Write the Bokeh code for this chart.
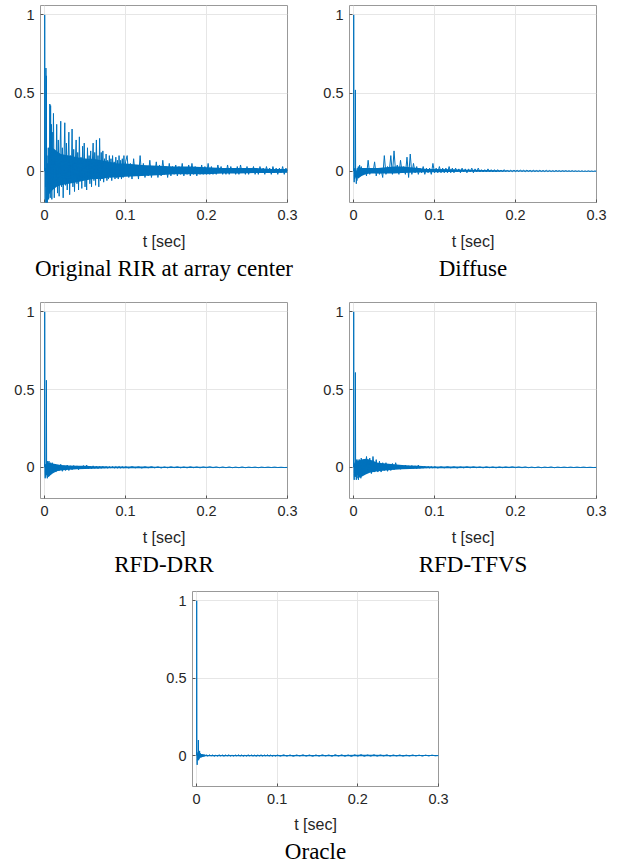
from bokeh.plotting import figure
from bokeh.layouts import column, row
from bokeh.models import Title, FixedTicker, Range1d, Spacer
from bokeh.embed import file_html
from bokeh.resources import INLINE

# ---------------- data ----------------
x_tick_vals = [0, 0.1, 0.2, 0.3]
x_tick_labels = ["0", "0.1", "0.2", "0.3"]
y_tick_vals = [0, 0.5, 1]
y_tick_labels = ["0", "0.5", "1"]
captions = ["Original RIR at array center", "Diffuse", "RFD-DRR", "RFD-TFVS", "Oracle"]
x_label = "t [sec]"

early_t = [0.0, 0.0002, 0.0005, 0.0008, 0.0011, 0.0014, 0.0017, 0.002, 0.0023, 0.0026,
           0.003, 0.0034, 0.0038, 0.0042, 0.0046, 0.005, 0.0055, 0.006, 0.0065, 0.007,
           0.0075, 0.008, 0.0085, 0.009, 0.0095, 0.01]

# dense core of each response (lower / upper envelope of the filled band)
env_t = [0.005, 0.01, 0.015, 0.02, 0.03, 0.04, 0.05, 0.06, 0.07, 0.08, 0.09, 0.1,
         0.12, 0.14, 0.16, 0.18, 0.2, 0.22, 0.24, 0.26, 0.28, 0.3]

# Original RIR at array center
orig_early = [0.0, 1.0, 0.05, -0.3, 0.02, -0.1, 0.66, -0.05, 0.61, -0.3,
              0.1, -0.28, 0.05, -0.12, 0.15, -0.18, 0.1, -0.08, 0.43, -0.17,
              0.42, -0.1, 0.3, -0.18, 0.25, -0.05]
orig_mid_start, orig_mid_step = 0.011, 0.001
orig_mid = [0.37, -0.17, 0.12, -0.06, 0.30, -0.14, 0.2, -0.16, 0.1, 0.32,
            -0.1, 0.15, -0.17, 0.08, 0.31, -0.09, 0.18, -0.12, 0.06, 0.25,
            -0.15, 0.1, -0.05, 0.27, -0.1, 0.14, -0.13, 0.05, 0.2, -0.08,
            0.12, -0.12, 0.22, -0.05, 0.09, -0.11, 0.16, -0.04, 0.18, -0.1,
            0.08, -0.12, 0.15, -0.04, 0.1, -0.08, 0.13, -0.1, 0.06, 0.18,
            -0.06, 0.12, -0.09, 0.2, -0.05, 0.1, -0.1, 0.21, -0.06, 0.12,
            -0.05, 0.13, -0.07, 0.08, -0.04, 0.11, -0.06, 0.07, -0.05, 0.1,
            -0.04, 0.08, -0.06, 0.1, -0.03, 0.06, -0.05, 0.09, -0.04, 0.07,
            -0.05, 0.1, -0.03, 0.07, -0.05, 0.08, -0.04, 0.1, -0.03, 0.06]
orig_late_step = 0.002
orig_late = [0.1, -0.04, 0.05, -0.05, 0.08, -0.03, 0.04, -0.05, 0.1, -0.03,
             0.05, -0.04, 0.03, -0.03, 0.07, -0.04, 0.03, -0.02, 0.06, -0.04,
             0.04, -0.03, 0.07, -0.02, 0.03, -0.04, 0.05, -0.03, 0.03, -0.02,
             0.04, -0.03, 0.03, -0.02, 0.05, -0.03, 0.02, -0.02, 0.04, -0.03,
             0.05, -0.02, 0.03, -0.03, 0.02, -0.02, 0.04, -0.02, 0.03, -0.02,
             0.05, -0.02, 0.03, -0.02, 0.02, -0.02, 0.04, -0.01, 0.03, -0.02,
             0.02, -0.02, 0.04, -0.02, 0.03, -0.01, 0.02, -0.02, 0.03, -0.02,
             0.04, -0.01, 0.02, -0.02, 0.03, -0.02, 0.02, -0.01, 0.03, -0.02,
             0.02, -0.02, 0.03, -0.01, 0.02, -0.02, 0.03, -0.01, 0.02, -0.02,
             0.03, -0.01, 0.02, -0.02, 0.02, -0.01, 0.03, -0.02, 0.02, 0.0]
orig_hi = [0.15, 0.15, 0.13, 0.11, 0.1, 0.09, 0.08, 0.08, 0.07, 0.06, 0.05, 0.05,
           0.04, 0.035, 0.03, 0.03, 0.025, 0.02, 0.02, 0.02, 0.015, 0.015]
orig_lo = [-0.15, -0.12, -0.1, -0.09, -0.08, -0.07, -0.06, -0.05, -0.05, -0.04, -0.04, -0.035,
           -0.03, -0.025, -0.02, -0.02, -0.02, -0.015, -0.015, -0.012, -0.012, -0.01]

# shared sample grid of the 0.012 .. 0.1 s part for the other panels
mid_start, mid_step = 0.012, 0.002

# Diffuse
diff_early = [0.0, 1.0, -0.02, -0.07, 0.01, -0.05, 0.02, -0.03, 0.52, -0.04,
              0.01, -0.08, 0.0, -0.06, 0.02, -0.04, 0.01, -0.03, 0.03, -0.02,
              0.04, -0.03, 0.01, -0.02, 0.03, -0.01]
diff_mid = [-0.02, 0.01, -0.03, 0.07, -0.02, 0.02, -0.01, 0.06, -0.03, 0.02,
            -0.02, 0.01, -0.04, 0.1, -0.02, 0.03, -0.01, 0.1, -0.02, 0.13,
            -0.01, 0.04, -0.02, 0.07, -0.01, 0.03, -0.02, 0.09, -0.04, 0.11,
            -0.02, 0.05, -0.01, 0.03, -0.02, 0.02, -0.01, 0.03, -0.02, 0.02,
            -0.01, 0.02, -0.02, 0.05, -0.01]
diff_late_step = 0.002
diff_late = [0.02, -0.01, 0.03, -0.01, 0.02, -0.01, 0.02, -0.01, 0.03, -0.01,
             0.02, -0.01, 0.02, -0.005, 0.015, -0.01, 0.02, -0.005, 0.015, -0.01,
             0.015, -0.005, 0.02, -0.01, 0.015, -0.005, 0.02, -0.005, 0.01, -0.005,
             0.01, -0.005, 0.015, -0.005, 0.01, -0.005, 0.01, -0.005, 0.01, -0.003,
             0.008, -0.004, 0.01, -0.003, 0.008, -0.004, 0.007, -0.003, 0.008, -0.003,
             0.007, -0.003, 0.008, -0.002, 0.006, -0.003, 0.007, -0.002, 0.006, -0.003,
             0.006, -0.002, 0.005, -0.002, 0.006, -0.002, 0.005, -0.002, 0.006, -0.002,
             0.005, -0.002, 0.004, -0.002, 0.005, -0.001, 0.004, -0.002, 0.004, -0.001,
             0.004, -0.001, 0.003, -0.001, 0.004, -0.001, 0.003, -0.001, 0.003, -0.001,
             0.003, -0.001, 0.002, -0.001, 0.003, -0.001, 0.002, -0.001, 0.002, 0.0]
diff_hi = [0.03, 0.02, 0.02, 0.02, 0.02, 0.025, 0.03, 0.03, 0.025, 0.02, 0.015, 0.015,
           0.012, 0.01, 0.008, 0.006, 0.005, 0.004, 0.003, 0.003, 0.002, 0.002]
diff_lo = [-0.05, -0.03, -0.02, -0.015, -0.015, -0.015, -0.015, -0.012, -0.01, -0.008, -0.007, -0.006,
           -0.005, -0.004, -0.003, -0.003, -0.002, -0.002, -0.002, -0.001, -0.001, -0.001]

# RFD-DRR
drr_early = [0.0, 1.0, -0.03, -0.07, 0.02, -0.06, 0.01, -0.04, 0.56, -0.05,
             0.03, -0.07, 0.04, -0.05, 0.03, -0.06, 0.04, -0.05, 0.02, -0.04,
             0.03, -0.04, 0.02, -0.03, 0.03, -0.02]
drr_mid = [0.02, -0.03, 0.015, -0.02, 0.02, -0.025, 0.01, -0.02, 0.015, -0.02,
           0.01, -0.015, 0.012, -0.01, 0.01, -0.015, 0.008, -0.01, 0.012, -0.008,
           0.015, -0.01, 0.008, -0.008, 0.01, -0.006, 0.008, -0.008, 0.006, -0.006,
           0.007, -0.005, 0.006, -0.006, 0.005, -0.004, 0.006, -0.005, 0.005, -0.004,
           0.006, -0.004, 0.005, -0.004, 0.004]
drr_late_step = 0.004
drr_late = [-0.004, 0.005, -0.003, 0.004, -0.004, 0.004, -0.003, 0.005, -0.003, 0.004,
            -0.004, 0.003, -0.003, 0.004, -0.002, 0.004, -0.003, 0.003, -0.003, 0.004,
            -0.002, 0.003, -0.003, 0.003, -0.002, 0.004, -0.002, 0.003, -0.002, 0.003,
            -0.002, 0.003, -0.002, 0.002, -0.002, 0.003, -0.002, 0.002, -0.001, 0.002,
            -0.002, 0.002, -0.001, 0.002, -0.001, 0.002, -0.001, 0.001, -0.001, 0.0]
drr_hi = [0.03, 0.025, 0.02, 0.015, 0.012, 0.01, 0.01, 0.008, 0.007, 0.006, 0.006, 0.005,
          0.005, 0.004, 0.004, 0.004, 0.004, 0.003, 0.003, 0.003, 0.003, 0.002]
drr_lo = [-0.06, -0.04, -0.025, -0.02, -0.015, -0.012, -0.01, -0.008, -0.007, -0.006, -0.006, -0.005,
          -0.005, -0.004, -0.004, -0.004, -0.003, -0.003, -0.003, -0.003, -0.002, -0.002]

# RFD-TFVS
tfvs_early = [0.0, 1.0, -0.04, -0.08, 0.02, -0.06, 0.03, -0.05, 0.61, -0.06,
              0.04, -0.08, 0.05, -0.07, 0.04, -0.05, 0.05, -0.08, 0.03, -0.06,
              0.05, -0.05, 0.04, -0.07, 0.06, -0.04]
tfvs_mid = [0.05, -0.04, 0.07, -0.03, 0.06, -0.04, 0.07, -0.03, 0.05, -0.03,
            0.04, -0.03, 0.03, -0.02, 0.03, -0.025, 0.02, -0.02, 0.025, -0.015,
            0.03, -0.01, 0.015, -0.012, 0.012, -0.01, 0.015, -0.008, 0.01, -0.01,
            0.012, -0.006, 0.01, -0.008, 0.015, -0.006, 0.008, -0.005, 0.007, -0.005,
            0.006, -0.004, 0.005, -0.004, 0.005]
tfvs_late_step = 0.004
tfvs_late = [-0.004, 0.004, -0.003, 0.005, -0.003, 0.004, -0.004, 0.003, -0.003, 0.004,
             -0.003, 0.004, -0.002, 0.003, -0.003, 0.004, -0.002, 0.003, -0.003, 0.003,
             -0.002, 0.003, -0.002, 0.004, -0.002, 0.003, -0.002, 0.003, -0.002, 0.002,
             -0.002, 0.003, -0.002, 0.002, -0.001, 0.003, -0.002, 0.002, -0.001, 0.002,
             -0.001, 0.002, -0.001, 0.002, -0.001, 0.002, -0.001, 0.001, -0.001, 0.0]
tfvs_hi = [0.04, 0.05, 0.055, 0.05, 0.03, 0.025, 0.02, 0.015, 0.012, 0.01, 0.007, 0.006,
           0.005, 0.005, 0.004, 0.004, 0.004, 0.003, 0.003, 0.003, 0.003, 0.002]
tfvs_lo = [-0.07, -0.06, -0.045, -0.035, -0.025, -0.02, -0.015, -0.012, -0.01, -0.008, -0.006, -0.005,
           -0.005, -0.004, -0.004, -0.004, -0.003, -0.003, -0.003, -0.003, -0.002, -0.002]

# Oracle
orc_early = [0.0, 1.0, -0.02, -0.06, 0.01, -0.03, 0.02, -0.02, 0.1, -0.03,
             0.02, -0.02, 0.03, -0.015, 0.015, -0.01, 0.01, -0.01, 0.008, -0.008,
             0.006, -0.006, 0.005, -0.005, 0.006, -0.004]
orc_mid = [0.004, -0.004, 0.005, -0.003, 0.004, -0.005, 0.003, -0.004, 0.005, -0.003,
           0.004, -0.005, 0.004, -0.003, 0.005, -0.004, 0.003, -0.004, 0.004, -0.003,
           0.005, -0.004, 0.004, -0.005, 0.003, -0.004, 0.005, -0.003, 0.004, -0.004,
           0.003, -0.005, 0.004, -0.003, 0.005, -0.004, 0.004, -0.003, 0.005, -0.004,
           0.004, -0.005, 0.003, -0.004, 0.004]
orc_late_step = 0.004
orc_late = [-0.004, 0.005, -0.004, 0.004, -0.005, 0.004, -0.003, 0.005, -0.004, 0.004,
            -0.005, 0.004, -0.004, 0.005, -0.003, 0.004, -0.005, 0.006, -0.004, 0.005,
            -0.005, 0.004, -0.006, 0.005, -0.004, 0.006, -0.005, 0.004, -0.004, 0.005,
            -0.004, 0.004, -0.003, 0.005, -0.004, 0.004, -0.003, 0.004, -0.004, 0.003,
            -0.003, 0.004, -0.003, 0.003, -0.004, 0.003, -0.003, 0.003, -0.002, 0.0]
orc_hi = [0.01, 0.005, 0.004, 0.004, 0.004, 0.004, 0.004, 0.004, 0.004, 0.004, 0.004, 0.004,
          0.004, 0.004, 0.004, 0.004, 0.005, 0.005, 0.004, 0.004, 0.003, 0.003]
orc_lo = [-0.015, -0.005, -0.004, -0.004, -0.004, -0.004, -0.004, -0.004, -0.004, -0.004, -0.004, -0.004,
          -0.004, -0.004, -0.004, -0.004, -0.005, -0.005, -0.004, -0.004, -0.003, -0.003]

# ---------------- styling ----------------
LINE = "#0072BD"
TICK_FONT = "Liberation Sans"
CAP_FONT = "Liberation Serif"
X_RANGE = (-0.005, 0.3)
Y_RANGE = (-0.2, 1.06)


def build_series(early_y, mid_y, late_y, late_step, m_start=mid_start, m_step=mid_step):
    t = list(early_t)
    t += [m_start + m_step * i for i in range(len(mid_y))]
    t += [0.1 + late_step * (i + 1) for i in range(len(late_y))]
    y = list(early_y) + list(mid_y) + list(late_y)
    return t, y


def panel(series, lo, hi, caption, fw, fh, left, right, top, bottom,
          label_standoff=10, title_standoff=3):
    t, y = series
    p = figure(frame_width=fw, frame_height=fh,
               x_range=Range1d(*X_RANGE), y_range=Range1d(*Y_RANGE),
               output_backend="svg", toolbar_location=None,
               min_border_left=left, min_border_right=right,
               min_border_top=top, min_border_bottom=bottom,
               background_fill_color="white", border_fill_color="white")
    p.varea(x=env_t, y1=lo, y2=hi, fill_color=LINE, fill_alpha=1.0)
    p.line(t, y, line_color=LINE, line_width=1)
    p.outline_line_color = "#999999"
    p.outline_line_width = 1
    p.grid.grid_line_color = "#e6e6e6"
    p.grid.grid_line_width = 1

    p.xaxis.ticker = FixedTicker(ticks=x_tick_vals)
    p.xaxis.major_label_overrides = dict(zip(x_tick_vals, x_tick_labels))
    p.yaxis.ticker = FixedTicker(ticks=y_tick_vals)
    p.yaxis.major_label_overrides = dict(zip(y_tick_vals, y_tick_labels))
    for ax in (p.xaxis[0], p.yaxis[0]):
        ax.axis_line_color = None
        ax.major_tick_in = 3
        ax.major_tick_out = 0
        ax.major_tick_line_color = "#555555"
        ax.minor_tick_line_color = None
        ax.major_label_text_font = TICK_FONT
        ax.major_label_text_font_size = "14.5px"
        ax.major_label_text_color = "#262626"
    p.yaxis.major_label_standoff = 6
    p.xaxis.major_label_standoff = 7
    p.xaxis.axis_label = x_label
    p.xaxis.axis_label_text_font = TICK_FONT
    p.xaxis.axis_label_text_font_size = "16px"
    p.xaxis.axis_label_text_font_style = "normal"
    p.xaxis.axis_label_text_color = "#262626"
    p.xaxis.axis_label_standoff = label_standoff
    p.add_layout(Title(text=caption, align="center", text_font=CAP_FONT,
                       text_font_size="23px", text_font_style="normal",
                       text_color="black", standoff=title_standoff), "below")
    return p


p1 = panel(build_series(orig_early, orig_mid, orig_late, orig_late_step,
                        orig_mid_start, orig_mid_step), orig_lo, orig_hi,
           captions[0], 247, 197, 40, 23, 5, 90)
p2 = panel(build_series(diff_early, diff_mid, diff_late, diff_late_step), diff_lo, diff_hi,
           captions[1], 247, 197, 39, 28, 5, 90)
p3 = panel(build_series(drr_early, drr_mid, drr_late, drr_late_step), drr_lo, drr_hi,
           captions[2], 247, 196, 40, 23, 10, 87)
p4 = panel(build_series(tfvs_early, tfvs_mid, tfvs_late, tfvs_late_step), tfvs_lo, tfvs_hi,
           captions[3], 247, 196, 39, 28, 10, 87)
p5 = panel(build_series(orc_early, orc_mid, orc_late, orc_late_step), orc_lo, orc_hi,
           captions[4], 246, 195, 40, 20, 6, 79, label_standoff=9, title_standoff=2)

layout = column(row(p1, p2), row(p3, p4), row(Spacer(width=152, height=10), p5))
open("out.html", "w").write(file_html(layout, INLINE))
